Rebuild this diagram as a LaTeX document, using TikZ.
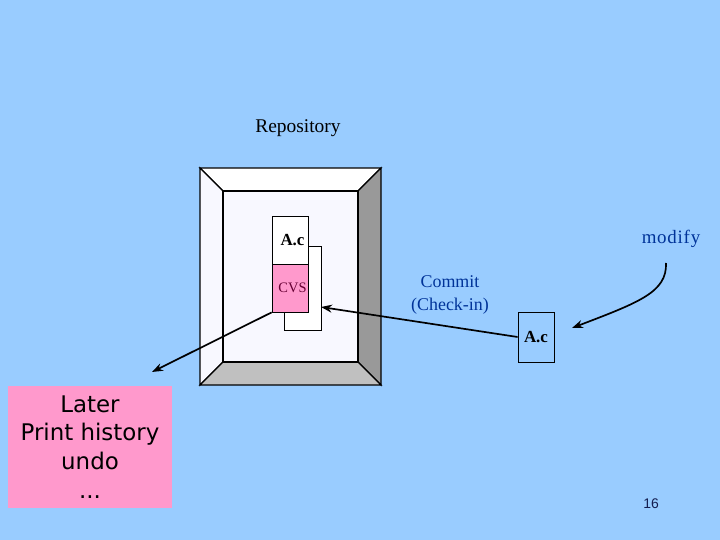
\documentclass[tikz,border=0pt]{standalone}
\usepackage{fontspec}
\setmainfont{Liberation Serif}
\newfontfamily\handfont{DejaVu Sans}
\newfontfamily\pagefont{Liberation Sans}
\usetikzlibrary{arrows.meta}
\definecolor{slidebg}{RGB}{153,204,255}
\definecolor{notepink}{RGB}{255,153,204}
\definecolor{labelblue}{RGB}{0,51,153}
\definecolor{cvsred}{RGB}{102,0,51}
\definecolor{facewhite}{RGB}{248,248,255}
\definecolor{bevelgray}{RGB}{153,153,153}
\definecolor{bevellight}{RGB}{192,192,192}
\definecolor{pagenavy}{RGB}{20,30,80}

\begin{document}
\begin{tikzpicture}[x=1bp, y=-1bp,
    file/.style={draw, line width=0.8pt, minimum width=36bp,
                 inner sep=0pt, align=center},
    flow/.style={-{Stealth[length=11bp,width=8bp]}, line width=1.7pt},
    bevel/.style={draw, line width=1.1pt, line join=miter},
    caption/.style={font=\fontsize{18}{23}\selectfont, text=labelblue,
                    align=center},
]

    \fill[slidebg] (0,0) rectangle (720,540);
    \useasboundingbox (0,0) rectangle (720,540);

    % repository frame
    \filldraw[bevel, fill=white] (200,168) -- (381,168) -- (358,191) -- (223,191) -- cycle;
    \filldraw[bevel, fill=facewhite] (200,168) -- (223,191) -- (223,362) -- (200,385) -- cycle;
    \filldraw[bevel, fill=bevelgray] (381,168) -- (381,385) -- (358,362) -- (358,191) -- cycle;
    \filldraw[bevel, fill=bevellight] (200,385) -- (223,362) -- (358,362) -- (381,385) -- cycle;
    \filldraw[bevel, fill=facewhite] (223,191) rectangle (358,362);

    \node[font=\fontsize{19.5}{22}\selectfont] (repo) at (298,128) {Repository};
    \node[file, fill=white, minimum width=37bp, minimum height=84bp] (cvsback) at (302.5,288) {};
    \node[file, fill=white, minimum height=48bp,
          font=\bfseries\fontsize{17}{20}\selectfont] (docname) at (290,240) {\hspace{5bp}A.c};
    \node[file, fill=notepink, minimum height=48bp, text=cvsred,
          font=\fontsize{14.5}{17}\selectfont] (cvs) at (290,288) {\hspace{5bp}CVS};
    \node[file, minimum height=50bp,
          font=\bfseries\fontsize{17}{20}\selectfont] (work) at (536,337) {A.c};

    \node[caption, font=\fontsize{19}{23}\selectfont\addfontfeature{LetterSpace=4}] (modify) at (671,239) {modify};
    \node[caption] (commit) at (450,295) {Commit\\(Check-in)};
    \node[fill=notepink, minimum width=164bp, minimum height=122bp, align=center,
          font=\handfont\fontsize{23}{29}\selectfont] (later) at (90,447)
          {Later\\Print history\\undo\\...};
    \node[font=\pagefont\fontsize{14}{17}\selectfont, text=pagenavy] (pageno) at (651,504) {16};

    \coordinate (commitend) at (321,307);
    \coordinate (histend) at (152,372);
    \coordinate (modstart) at (666,263);
    \coordinate (modend) at (572,328);

    \draw[flow] (work.west) -- (commitend);
    \draw[flow] (cvs.south west) -- (histend);
    \draw[flow] (modstart) .. controls (667,292) and (640,302) .. (modend);

\end{tikzpicture}
\end{document}
